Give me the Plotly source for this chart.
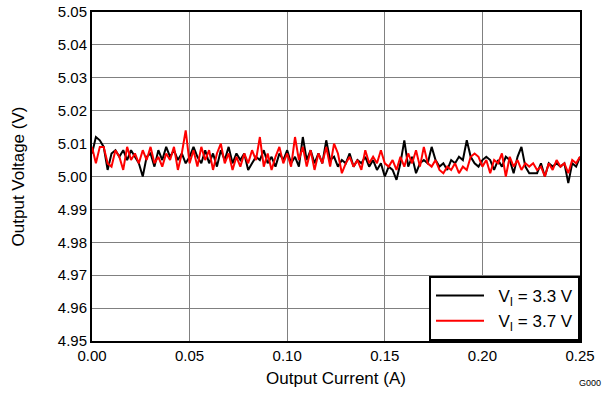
import plotly.graph_objects as go

current = [round(0.002 * i, 3) for i in range(126)]

v_33 = [5.007, 5.012, 5.011, 5.009, 5.002, 5.007, 5.008, 5.006, 5.008, 5.005,
        5.008, 5.006, 5.004, 5.000, 5.006, 5.007, 5.003, 5.008, 5.005, 5.009,
        5.006, 5.008, 5.005, 5.007, 5.004, 5.006, 5.009, 5.006, 5.004, 5.008,
        5.004, 5.007, 5.003, 5.008, 5.005, 5.009, 5.004, 5.007, 5.005, 5.007,
        5.002, 5.004, 5.006, 5.005, 5.008, 5.004, 5.006, 5.003, 5.007, 5.005,
        5.008, 5.004, 5.006, 5.003, 5.012, 5.005, 5.008, 5.004, 5.007, 5.004,
        5.011, 5.005, 5.006, 5.003, 5.005, 5.004, 5.007, 5.003, 5.005, 5.004,
        5.006, 5.003, 5.005, 5.002, 5.004, 5.000, 5.003, 5.002, 4.999, 5.004,
        5.011, 5.003, 5.006, 5.001, 5.004, 5.005, 5.004, 5.009, 5.005, 5.003,
        5.004, 5.002, 5.005, 5.004, 5.006, 5.005, 5.011, 5.006, 5.004, 5.003,
        5.005, 5.006, 5.005, 5.002, 5.005, 5.003, 5.006, 5.005, 5.001, 5.006,
        5.009, 5.003, 5.001, 5.001, 5.001, 5.004, 5.000, 5.004, 5.003, 5.004,
        5.003, 5.004, 4.998, 5.004, 5.003, 5.006]

v_37 = [5.009, 5.004, 5.009, 5.009, 5.004, 5.003, 5.008, 5.006, 5.002, 5.009,
        5.005, 5.007, 5.004, 5.008, 5.005, 5.009, 5.004, 5.006, 5.003, 5.007,
        5.005, 5.009, 5.002, 5.007, 5.014, 5.004, 5.008, 5.003, 5.009, 5.005,
        5.008, 5.002, 5.007, 5.010, 5.004, 5.007, 5.002, 5.006, 5.003, 5.007,
        5.004, 5.008, 5.005, 5.012, 5.003, 5.007, 5.002, 5.006, 5.009, 5.004,
        5.007, 5.003, 5.012, 5.005, 5.009, 5.003, 5.008, 5.002, 5.007, 5.004,
        5.009, 5.003, 5.010, 5.007, 5.001, 5.004, 5.006, 5.003, 5.005, 5.002,
        5.008, 5.004, 5.006, 5.004, 5.008, 5.004, 5.003, 5.005, 5.002, 5.006,
        5.003, 5.007, 5.004, 5.008, 5.003, 5.009, 5.004, 5.003, 5.005, 5.002,
        5.001, 5.003, 5.002, 5.004, 5.001, 5.003, 5.002, 5.006, 5.007, 5.006,
        5.003, 5.005, 5.001, 5.005, 5.004, 5.007, 5.000, 5.006, 5.003, 5.005,
        5.002, 5.004, 5.003, 5.004, 5.002, 5.003, 5.000, 5.004, 5.002, 5.005,
        5.003, 5.004, 5.001, 5.005, 5.004, 5.006]

series_names = ["V<sub>I</sub> = 3.3 V", "V<sub>I</sub> = 3.7 V"]

fig = go.Figure()
fig.add_trace(go.Scatter(x=current, y=v_33, mode="lines",
                         name="&nbsp;&nbsp;" + series_names[0],
                         line=dict(color="black", width=2)))
fig.add_trace(go.Scatter(x=current, y=v_37, mode="lines",
                         name="&nbsp;&nbsp;" + series_names[1],
                         line=dict(color="#ff0000", width=2)))

font = "Liberation Sans, Arial, sans-serif"
fig.update_layout(
    width=610, height=396,
    margin=dict(l=92, r=30, t=12, b=55, autoexpand=False),
    plot_bgcolor="white", paper_bgcolor="white",
    font=dict(family=font, size=14, color="black"),
    showlegend=True,
    legend=dict(x=1, y=0, xanchor="right", yanchor="bottom",
                bgcolor="white", bordercolor="black", borderwidth=2,
                font=dict(size=17), itemwidth=48, tracegroupgap=0),
    xaxis=dict(range=[0, 0.25], dtick=0.05, tickformat=".2f",
               showgrid=True, gridcolor="#808080", gridwidth=1,
               showline=True, linecolor="black", linewidth=2, mirror=True,
               ticks="", zeroline=False, tickfont=dict(size=15), automargin=False,
               title=dict(text="Output Current (A)", font=dict(size=17), standoff=9)),
    yaxis=dict(range=[4.95, 5.05], dtick=0.01, tickformat=".2f",
               showgrid=True, gridcolor="#808080", gridwidth=1,
               showline=True, linecolor="black", linewidth=2, mirror=True,
               ticks="", zeroline=False, tickfont=dict(size=15), automargin=False,
               title=dict(text="Output Voltage (V)", font=dict(size=17), standoff=29)),
    annotations=[dict(text="G000", xref="paper", yref="paper", x=1.047, y=-0.128,
                      xanchor="right", yanchor="middle", showarrow=False,
                      font=dict(size=9, family=font))],
)

fig.write_html("out.html", config={"displayModeBar": False},
               post_script="document.body.style.margin='0';")
